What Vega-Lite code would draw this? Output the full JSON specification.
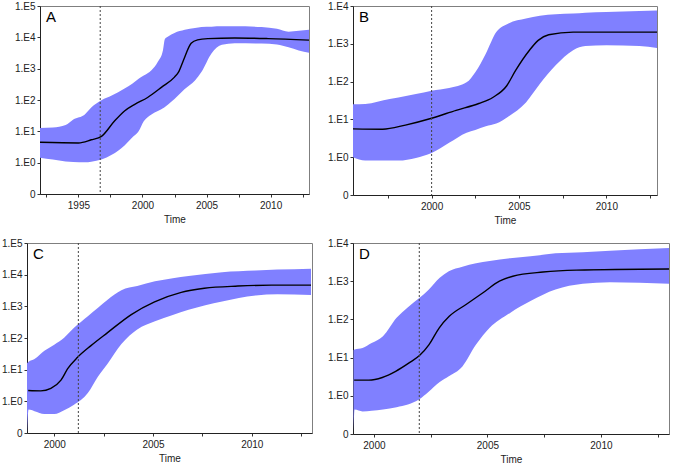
{
  "$schema": "https://vega.github.io/schema/vega-lite/v6.json",
  "background": "white",
  "padding": {"left": 0, "top": 0, "right": 0, "bottom": 0},
  "config": {
    "view": {"stroke": "#7f7f7f", "strokeWidth": 1},
    "font": "Liberation Sans",
    "axis": {"grid": false, "labelFont": "Liberation Sans", "labelFontSize": 10, "labelColor": "#222", "tickColor": "#333", "domainColor": "#222", "tickSize": 3, "labelPadding": 2, "titleFont": "Liberation Sans", "titleFontSize": 10, "titleFontWeight": "normal", "titleColor": "#222", "labelFlush": false, "labelOverlap": false, "tickCount": 20},
    "title": {"font": "Liberation Sans", "fontSize": 15, "fontWeight": "normal", "color": "#000", "anchor": "start", "frame": "group", "offset": -24, "dx": 6, "baseline": "alphabetic"}
  },
  "datasets": {
    "bandA": [
      {"year": 1992, "lo": 0.16, "hi": 1.11},
      {"year": 1993, "lo": 0.10, "hi": 1.12},
      {"year": 1994, "lo": 0.04, "hi": 1.20},
      {"year": 1994.6, "lo": 0.02, "hi": 1.38},
      {"year": 1995.5, "lo": 0.01, "hi": 1.54},
      {"year": 1996, "lo": 0.03, "hi": 1.76},
      {"year": 1996.8, "lo": 0.10, "hi": 1.99},
      {"year": 1997.6, "lo": 0.25, "hi": 2.14},
      {"year": 1998.6, "lo": 0.55, "hi": 2.37},
      {"year": 1999.2, "lo": 0.80, "hi": 2.52},
      {"year": 1999.7, "lo": 1.00, "hi": 2.68},
      {"year": 2000.1, "lo": 1.32, "hi": 2.78},
      {"year": 2000.7, "lo": 1.54, "hi": 2.95},
      {"year": 2001.2, "lo": 1.65, "hi": 3.22},
      {"year": 2001.6, "lo": 1.74, "hi": 3.59},
      {"year": 2001.75, "lo": 1.78, "hi": 3.95},
      {"year": 2002, "lo": 1.86, "hi": 4.03},
      {"year": 2002.5, "lo": 2.03, "hi": 4.14},
      {"year": 2003.3, "lo": 2.35, "hi": 4.24},
      {"year": 2004.1, "lo": 2.62, "hi": 4.30},
      {"year": 2004.6, "lo": 2.89, "hi": 4.33},
      {"year": 2005.4, "lo": 3.49, "hi": 4.34},
      {"year": 2006.2, "lo": 3.76, "hi": 4.35},
      {"year": 2007.2, "lo": 3.81, "hi": 4.35},
      {"year": 2009.3, "lo": 3.80, "hi": 4.33},
      {"year": 2010.5, "lo": 3.77, "hi": 4.27},
      {"year": 2011.4, "lo": 3.68, "hi": 4.18},
      {"year": 2012.2, "lo": 3.58, "hi": 4.21},
      {"year": 2013, "lo": 3.51, "hi": 4.24}
    ],
    "medA": [
      {"year": 1992, "med": 0.65},
      {"year": 1995, "med": 0.63},
      {"year": 1996, "med": 0.73},
      {"year": 1996.8, "med": 0.84},
      {"year": 1997.8, "med": 1.32},
      {"year": 1998.6, "med": 1.65},
      {"year": 1999.4, "med": 1.86},
      {"year": 2000.4, "med": 2.08},
      {"year": 2001.5, "med": 2.41},
      {"year": 2002.5, "med": 2.73},
      {"year": 2002.8, "med": 2.88},
      {"year": 2003.2, "med": 3.27},
      {"year": 2003.8, "med": 3.81},
      {"year": 2004.3, "med": 3.92},
      {"year": 2005.1, "med": 3.96},
      {"year": 2007.2, "med": 3.98},
      {"year": 2009.8, "med": 3.96},
      {"year": 2013, "med": 3.91}
    ],
    "bandB": [
      {"year": 1995.5, "lo": 0.00, "hi": 1.40},
      {"year": 1996.2, "lo": -0.09, "hi": 1.41},
      {"year": 1997.6, "lo": -0.09, "hi": 1.54},
      {"year": 1998.1, "lo": -0.09, "hi": 1.58},
      {"year": 1999.1, "lo": -0.02, "hi": 1.67},
      {"year": 2000, "lo": 0.11, "hi": 1.76},
      {"year": 2001, "lo": 0.38, "hi": 1.83},
      {"year": 2002, "lo": 0.65, "hi": 1.98},
      {"year": 2002.5, "lo": 0.72, "hi": 2.25},
      {"year": 2003.1, "lo": 0.82, "hi": 2.74},
      {"year": 2003.7, "lo": 0.89, "hi": 3.31},
      {"year": 2004.4, "lo": 1.08, "hi": 3.54},
      {"year": 2005.4, "lo": 1.45, "hi": 3.67},
      {"year": 2006.2, "lo": 1.94, "hi": 3.74},
      {"year": 2007.1, "lo": 2.43, "hi": 3.78},
      {"year": 2008.1, "lo": 2.83, "hi": 3.80},
      {"year": 2008.8, "lo": 2.94, "hi": 3.82},
      {"year": 2010, "lo": 2.96, "hi": 3.84},
      {"year": 2011.9, "lo": 2.94, "hi": 3.87},
      {"year": 2012.9, "lo": 2.89, "hi": 3.88}
    ],
    "medB": [
      {"year": 1995.5, "med": 0.75},
      {"year": 1997.2, "med": 0.74},
      {"year": 1998.5, "med": 0.85},
      {"year": 2000, "med": 1.03},
      {"year": 2001.4, "med": 1.24},
      {"year": 2002.7, "med": 1.42},
      {"year": 2003.5, "med": 1.58},
      {"year": 2004.3, "med": 1.89},
      {"year": 2004.8, "med": 2.29},
      {"year": 2005.6, "med": 2.83},
      {"year": 2006.1, "med": 3.09},
      {"year": 2006.7, "med": 3.24},
      {"year": 2008.1, "med": 3.31},
      {"year": 2012.9, "med": 3.31}
    ],
    "bandC": [
      {"year": 1998.62, "lo": -1.0, "hi": 1.20},
      {"year": 1998.7, "lo": -0.26, "hi": 1.25},
      {"year": 1999.0, "lo": -0.31, "hi": 1.34},
      {"year": 1999.5, "lo": -0.40, "hi": 1.60},
      {"year": 2000.0, "lo": -0.40, "hi": 1.79},
      {"year": 2000.5, "lo": -0.28, "hi": 2.01},
      {"year": 2001.0, "lo": -0.11, "hi": 2.32},
      {"year": 2001.7, "lo": 0.26, "hi": 2.69},
      {"year": 2002.2, "lo": 0.77, "hi": 2.95},
      {"year": 2002.7, "lo": 1.19, "hi": 3.21},
      {"year": 2003.4, "lo": 1.81, "hi": 3.51},
      {"year": 2004.2, "lo": 2.27, "hi": 3.64},
      {"year": 2005.1, "lo": 2.53, "hi": 3.79},
      {"year": 2006.0, "lo": 2.73, "hi": 3.89},
      {"year": 2006.8, "lo": 2.89, "hi": 3.96},
      {"year": 2008.5, "lo": 3.15, "hi": 4.08},
      {"year": 2010.2, "lo": 3.34, "hi": 4.13},
      {"year": 2011.3, "lo": 3.38, "hi": 4.16},
      {"year": 2013.0, "lo": 3.36, "hi": 4.19}
    ],
    "medC": [
      {"year": 1998.68, "med": 0.34},
      {"year": 1999.32, "med": 0.33},
      {"year": 1999.83, "med": 0.41},
      {"year": 2000.34, "med": 0.67},
      {"year": 2000.68, "med": 1.03},
      {"year": 2001.18, "med": 1.39},
      {"year": 2001.86, "med": 1.76},
      {"year": 2002.7, "med": 2.17},
      {"year": 2003.9, "med": 2.74},
      {"year": 2005.08, "med": 3.14},
      {"year": 2006.43, "med": 3.44},
      {"year": 2007.6, "med": 3.57},
      {"year": 2009.3, "med": 3.64},
      {"year": 2011, "med": 3.67},
      {"year": 2013, "med": 3.67}
    ],
    "bandD": [
      {"year": 1999.1, "lo": -1.0, "hi": 1.19},
      {"year": 1999.15, "lo": -0.36, "hi": 1.21},
      {"year": 1999.5, "lo": -0.41, "hi": 1.25},
      {"year": 1999.9, "lo": -0.39, "hi": 1.38},
      {"year": 2000.4, "lo": -0.36, "hi": 1.56},
      {"year": 2001.0, "lo": -0.30, "hi": 2.04},
      {"year": 2001.5, "lo": -0.23, "hi": 2.32},
      {"year": 2002.0, "lo": -0.09, "hi": 2.56},
      {"year": 2002.4, "lo": 0.10, "hi": 2.77},
      {"year": 2002.9, "lo": 0.36, "hi": 3.09},
      {"year": 2003.3, "lo": 0.51, "hi": 3.26},
      {"year": 2003.9, "lo": 0.77, "hi": 3.38},
      {"year": 2004.5, "lo": 1.34, "hi": 3.47},
      {"year": 2005.1, "lo": 1.78, "hi": 3.53},
      {"year": 2006.0, "lo": 2.17, "hi": 3.60},
      {"year": 2006.9, "lo": 2.48, "hi": 3.65},
      {"year": 2008.0, "lo": 2.78, "hi": 3.73},
      {"year": 2009.2, "lo": 2.93, "hi": 3.76},
      {"year": 2010.4, "lo": 2.97, "hi": 3.80},
      {"year": 2013.0, "lo": 2.93, "hi": 3.87}
    ],
    "medD": [
      {"year": 1999.13, "med": 0.41},
      {"year": 1999.78, "med": 0.41},
      {"year": 2000.37, "med": 0.48},
      {"year": 2000.96, "med": 0.64},
      {"year": 2001.55, "med": 0.86},
      {"year": 2002.02, "med": 1.06},
      {"year": 2002.43, "med": 1.34},
      {"year": 2002.88, "med": 1.78},
      {"year": 2003.32, "med": 2.08},
      {"year": 2004.06, "med": 2.39},
      {"year": 2004.79, "med": 2.69},
      {"year": 2005.53, "med": 3.0},
      {"year": 2006.12, "med": 3.13},
      {"year": 2007.45, "med": 3.24},
      {"year": 2008.92, "med": 3.29},
      {"year": 2013, "med": 3.32}
    ]
  },
  "vconcat": [
    {
      "hconcat": [
        {
          "hconcat": [
            {"width": 1, "height": 1, "data": {"values": []}, "mark": "point", "encoding": {}, "view": {"stroke": null, "fill": null}},
            {
              "width": 269, "height": 188,
              "title": {"text": "A"},
              "layer": [
                {"data": {"name": "bandA"}, "mark": {"type": "area", "color": "#8080ff", "opacity": 1, "interpolate": "monotone"},
                 "encoding": {
                   "x": {"field": "year", "type": "quantitative", "scale": {"domain": [1992, 2013], "nice": false, "zero": false},
                         "axis": {"title": "Time", "values": [1992.5, 1995, 1997.5, 2000, 2002.5, 2005, 2007.5, 2010, 2012.5], "tickCount": 20, "labelExpr": "datum.value % 5 == 0 ? format(datum.value, 'd') : ''", "labelPadding": 3, "titlePadding": 4, "labelOverlap": false}},
                   "y": {"field": "lo", "type": "quantitative", "scale": {"domain": [-1, 5], "nice": false, "zero": false},
                         "axis": {"title": null, "values": [-1, 0, 1, 2, 3, 4, 5], "tickCount": 20, "labelExpr": "datum.value < 0 ? '0' : '1.E' + datum.value", "minExtent": 26, "labelOverlap": false}},
                   "y2": {"field": "hi"}}},
                {"data": {"name": "medA"}, "mark": {"type": "line", "color": "#000", "strokeWidth": 1.4, "interpolate": "monotone"},
                 "encoding": {"x": {"field": "year", "type": "quantitative"}, "y": {"field": "med", "type": "quantitative"}}},
                {"data": {"values": [{"year": 1996.7}]}, "mark": {"type": "rule", "color": "#444", "strokeDash": [2, 2], "strokeWidth": 1},
                 "encoding": {"x": {"field": "year", "type": "quantitative"}}}
              ]
            }
          ],
          "spacing": -15
        },
        {
          "width": 304, "height": 189,
          "title": {"text": "B"},
          "layer": [
            {"data": {"name": "bandB"}, "mark": {"type": "area", "color": "#8080ff", "opacity": 1, "interpolate": "monotone"},
             "encoding": {
               "x": {"field": "year", "type": "quantitative", "scale": {"domain": [1995.5, 2012.9], "nice": false, "zero": false},
                     "axis": {"title": "Time", "values": [1997.5, 2000, 2002.5, 2005, 2007.5, 2010, 2012.5], "tickCount": 20, "labelExpr": "datum.value % 5 == 0 ? format(datum.value, 'd') : ''", "labelPadding": 3, "titlePadding": 4, "labelOverlap": false}},
               "y": {"field": "lo", "type": "quantitative", "scale": {"domain": [-1, 4], "nice": false, "zero": false},
                     "axis": {"title": null, "values": [-1, 0, 1, 2, 3, 4], "tickCount": 20, "labelExpr": "datum.value < 0 ? '0' : '1.E' + datum.value", "minExtent": 26, "labelOverlap": false}},
               "y2": {"field": "hi"}}},
            {"data": {"name": "medB"}, "mark": {"type": "line", "color": "#000", "strokeWidth": 1.4, "interpolate": "monotone"},
             "encoding": {"x": {"field": "year", "type": "quantitative"}, "y": {"field": "med", "type": "quantitative"}}},
            {"data": {"values": [{"year": 2000}]}, "mark": {"type": "rule", "color": "#444", "strokeDash": [2, 2], "strokeWidth": 1},
             "encoding": {"x": {"field": "year", "type": "quantitative"}}}
          ]
        }
      ],
      "spacing": 13
    },
    {
      "hconcat": [
        {
          "width": 285, "height": 190,
          "title": {"text": "C"},
          "layer": [
            {"data": {"name": "bandC"}, "mark": {"type": "area", "color": "#8080ff", "opacity": 1, "interpolate": "monotone"},
             "encoding": {
               "x": {"field": "year", "type": "quantitative", "scale": {"domain": [1998.62, 2013.05], "nice": false, "zero": false},
                     "axis": {"title": "Time", "values": [2000, 2002.5, 2005, 2007.5, 2010, 2012.5], "tickCount": 20, "labelExpr": "datum.value % 5 == 0 ? format(datum.value, 'd') : ''", "labelPadding": 3, "titlePadding": 4, "labelOverlap": false}},
               "y": {"field": "lo", "type": "quantitative", "scale": {"domain": [-1, 5], "nice": false, "zero": false},
                     "axis": {"title": null, "values": [-1, 0, 1, 2, 3, 4, 5], "tickCount": 20, "labelExpr": "datum.value < 0 ? '0' : '1.E' + datum.value", "minExtent": 24, "labelOverlap": false}},
               "y2": {"field": "hi"}}},
            {"data": {"name": "medC"}, "mark": {"type": "line", "color": "#000", "strokeWidth": 1.4, "interpolate": "monotone"},
             "encoding": {"x": {"field": "year", "type": "quantitative"}, "y": {"field": "med", "type": "quantitative"}}},
            {"data": {"values": [{"year": 2001.22}]}, "mark": {"type": "rule", "color": "#444", "strokeDash": [2, 2], "strokeWidth": 1},
             "encoding": {"x": {"field": "year", "type": "quantitative"}}}
          ]
        },
        {
          "width": 316, "height": 191,
          "title": {"text": "D"},
          "layer": [
            {"data": {"name": "bandD"}, "mark": {"type": "area", "color": "#8080ff", "opacity": 1, "interpolate": "monotone"},
             "encoding": {
               "x": {"field": "year", "type": "quantitative", "scale": {"domain": [1999.08, 2013], "nice": false, "zero": false},
                     "axis": {"title": "Time", "values": [2000, 2002.5, 2005, 2007.5, 2010, 2012.5], "tickCount": 20, "labelExpr": "datum.value % 5 == 0 ? format(datum.value, 'd') : ''", "labelPadding": 3, "titlePadding": 4, "labelOverlap": false}},
               "y": {"field": "lo", "type": "quantitative", "scale": {"domain": [-1, 4], "nice": false, "zero": false},
                     "axis": {"title": null, "values": [-1, 0, 1, 2, 3, 4], "tickCount": 20, "labelExpr": "datum.value < 0 ? '0' : '1.E' + datum.value", "minExtent": 26, "labelOverlap": false}},
               "y2": {"field": "hi"}}},
            {"data": {"name": "medD"}, "mark": {"type": "line", "color": "#000", "strokeWidth": 1.4, "interpolate": "monotone"},
             "encoding": {"x": {"field": "year", "type": "quantitative"}, "y": {"field": "med", "type": "quantitative"}}},
            {"data": {"values": [{"year": 2002.0}]}, "mark": {"type": "rule", "color": "#444", "strokeDash": [2, 2], "strokeWidth": 1},
             "encoding": {"x": {"field": "year", "type": "quantitative"}}}
          ]
        }
      ],
      "spacing": 11
    }
  ],
  "spacing": 11
}
